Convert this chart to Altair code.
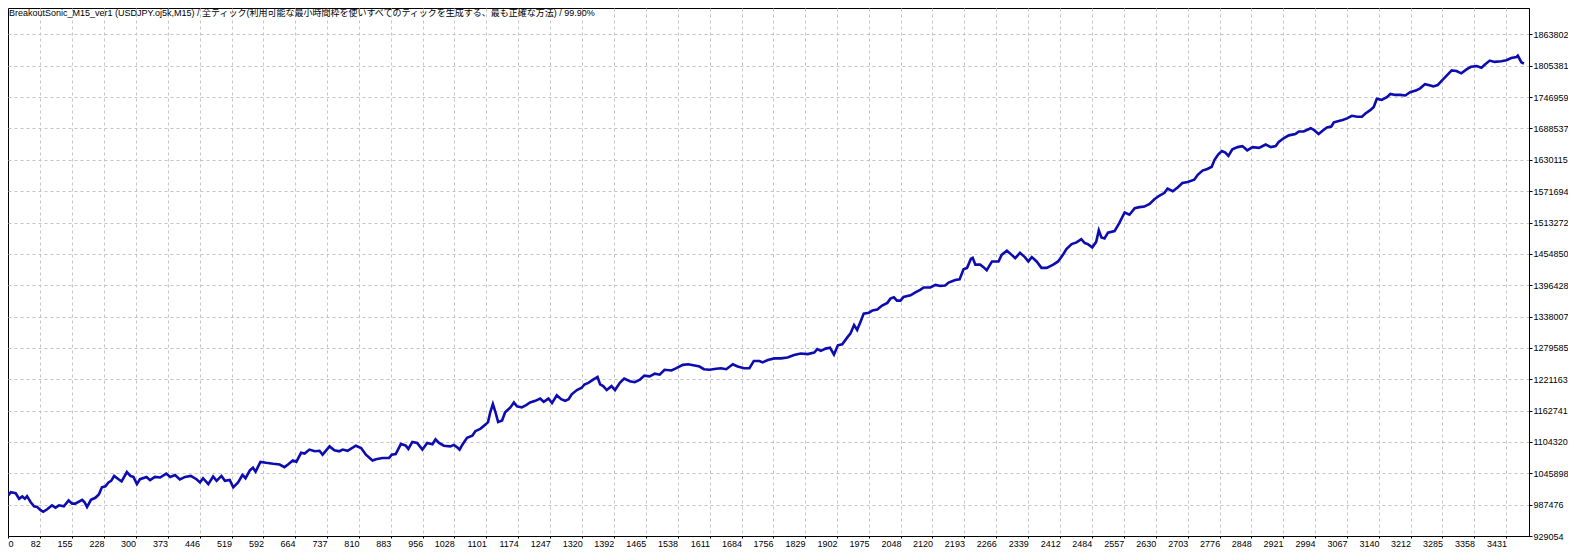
import altair as alt
import pandas as pd

TITLE = "BreakoutSonic_M15_ver1 (USDJPY.oj5k,M15) / 全ティック(利用可能な最小時間枠を使いすべてのティックを生成する、最も正確な方法) / 99.90%"

TRADE = [9,15,26,34,41,47,52,60,68,75,83,89,98,109,117,125,136,147,155,162,178,183,189,198,208,216,223,231,238,244,251,261,268,280,288,295,303,310,325,333,344,356,370,379,390,401,413,426,439,447,454,466,477,485,496,504,515,523,534,544,551,561,568,574,585,598,614,629,640,648,659,667,678,686,697,709,720,727,743,754,765,773,784,803,815,826,841,849,864,879,885,894,906,917,923,932,943,955,966,978,985,993,1004,1019,1027,1035,1040,1046,1057,1069,1076,1088,1099,1105,1110,1116,1122,1128,1137,1144,1156,1164,1171,1182,1192,1201,1213,1224,1232,1243,1251,1262,1272,1281,1289,1296,1308,1319,1325,1334,1345,1355,1361,1368,1376,1387,1395,1406,1416,1429,1440,1452,1462,1474,1486,1497,1508,1524,1535,1550,1562,1577,1588,1598,1611,1626,1637,1649,1664,1675,1690,1702,1712,1725,1732,1744,1759,1774,1789,1804,1819,1835,1850,1857,1865,1876,1886,1895,1904,1914,1926,1933,1941,1948,1956,1963,1975,1983,1994,2005,2017,2024,2032,2039,2047,2054,2070,2081,2092,2100,2115,2127,2138,2149,2157,2172,2182,2191,2199,2208,2212,2218,2229,2236,2244,2256,2271,2278,2290,2301,2309,2320,2331,2339,2347,2358,2369,2381,2396,2407,2418,2426,2438,2449,2460,2468,2475,2485,2494,2500,2506,2513,2521,2536,2547,2559,2570,2582,2593,2604,2616,2627,2638,2650,2657,2669,2680,2691,2703,2718,2726,2737,2748,2758,2764,2773,2781,2789,2796,2805,2817,2828,2839,2851,2866,2881,2893,2904,2911,2923,2934,2949,2957,2968,2984,2991,3002,3014,3021,3031,3037,3048,3057,3067,3078,3090,3101,3109,3120,3128,3135,3146,3158,3166,3177,3188,3200,3211,3224,3234,3245,3253,3264,3274,3283,3294,3306,3317,3328,3340,3350,3363,3374,3382,3393,3404,3419,3431,3442,3454,3457,3465,3471]

BALANCE = [1004454,1010662,1008836,998430,1002629,998430,1003359,992405,984368,983273,977066,974145,978891,986198,981998,986198,984368,995326,989301,989301,996604,992405,983273,996604,1000255,1006280,1019790,1021616,1028918,1031843,1040971,1034943,1030748,1048275,1040971,1039145,1025815,1034943,1039145,1033118,1039145,1038050,1045350,1039145,1042793,1034396,1039145,1040971,1034943,1028918,1036769,1025815,1039878,1031843,1040971,1031843,1033665,1019790,1028918,1042793,1036769,1051374,1056304,1049005,1067263,1065437,1063611,1062328,1057401,1062328,1069631,1067263,1084053,1082775,1090074,1086971,1087888,1080585,1096103,1088796,1086971,1090074,1087888,1097376,1093178,1080585,1069631,1072005,1074558,1074558,1080585,1081861,1100668,1097563,1091352,1104319,1102493,1090074,1102493,1100120,1109248,1102493,1097376,1096103,1098842,1093913,1090074,1098842,1112170,1115821,1124402,1129331,1136634,1141380,1159637,1174973,1159637,1141380,1144484,1159637,1168766,1177894,1170591,1168766,1173147,1177894,1180998,1185197,1179172,1185197,1176799,1191404,1184101,1180998,1184101,1193230,1201080,1205279,1211487,1214408,1220615,1225362,1211487,1208383,1201080,1208383,1201080,1214408,1222441,1217511,1215686,1220615,1227918,1226640,1231569,1229743,1238872,1237594,1241793,1248000,1249096,1246722,1244896,1239967,1238872,1240697,1241793,1239967,1249096,1244896,1241793,1241793,1255303,1255303,1252747,1257129,1260050,1260050,1261875,1266257,1269178,1268083,1271004,1277211,1274107,1278306,1280132,1267352,1284514,1286340,1299667,1306970,1322123,1312995,1328878,1343483,1345309,1349508,1351334,1358637,1363566,1371416,1373972,1367765,1367765,1374520,1377623,1383100,1387847,1392229,1392229,1396976,1395150,1395880,1401357,1406104,1407382,1426187,1428743,1445721,1447547,1434767,1434767,1430568,1424361,1440792,1440792,1453024,1460875,1453024,1446999,1456675,1448825,1440792,1448825,1440792,1428743,1428743,1434767,1440792,1453024,1463978,1473106,1476210,1482235,1474932,1473106,1467082,1477306,1498666,1485339,1483513,1494467,1497388,1512724,1532076,1527877,1540109,1541935,1543030,1547959,1556540,1563112,1568589,1576622,1571693,1578448,1586846,1588672,1593054,1602182,1610032,1613136,1617335,1629568,1640521,1646546,1643442,1637418,1649650,1653849,1655674,1647824,1653849,1652571,1658778,1653849,1655674,1663525,1670828,1675757,1678130,1683060,1683060,1689085,1686164,1678130,1686164,1690362,1692188,1700039,1702595,1704420,1707341,1712270,1710445,1710445,1716470,1722677,1728702,1743855,1742029,1746958,1752983,1751157,1751157,1750062,1756087,1759190,1763390,1771240,1769414,1767041,1769414,1777448,1786576,1796800,1795704,1791323,1798625,1803554,1804832,1801729,1807754,1815056,1812683,1813961,1815787,1819986,1821811,1824185,1812135,1809579]

X_TICK_LABELS = [0, 82, 155, 228, 300, 373, 446, 519, 592, 664, 737, 810, 883, 956, 1028, 1101,
                 1174, 1247, 1320, 1392, 1465, 1538, 1611, 1684, 1756, 1829, 1902, 1975, 2048, 2120,
                 2193, 2266, 2339, 2412, 2484, 2557, 2630, 2703, 2776, 2848, 2921, 2994, 3067, 3140,
                 3212, 3285, 3358, 3431]
Y_TICKS = [929054, 987476, 1045898, 1104320, 1162741, 1221163, 1279585, 1338007, 1396428,
           1454850, 1513272, 1571694, 1630115, 1688537, 1746959, 1805381, 1863802]

X_DOMAIN = [8.5, 3482.6]
Y_DOMAIN = [929054, 1913117]

assert len(TRADE) == len(BALANCE)

FONT = "Liberation Sans, Noto Sans CJK JP, sans-serif"

df = pd.DataFrame({"trade": TRADE, "balance": BALANCE})
x_tick_pos = [X_DOMAIN[0]] + X_TICK_LABELS[1:]

x_enc = alt.X(
    "trade:Q",
    scale=alt.Scale(domain=X_DOMAIN, nice=False, zero=False),
    axis=alt.Axis(
        values=x_tick_pos,
        title=None,
        grid=True,
        gridColor="#c4c4c4",
        gridDash=[3, 3],
        gridWidth=1,
        gridOpacity={"condition": {"test": "datum.value < 10", "value": 0}, "value": 1},
        domainColor="#000000",
        domainWidth=1,
        tickColor="#000000",
        tickSize=2,
        labelFont=FONT,
        labelFontSize=9,
        labelColor="#000000",
        labelPadding=1,
        labelAlign={"condition": {"test": "datum.value < 10", "value": "left"}, "value": "right"},
        labelExpr="datum.value < 10 ? '0' : format(datum.value, 'd')",
        labelFlush=False,
        labelOverlap=False,
    ),
)
y_enc = alt.Y(
    "balance:Q",
    scale=alt.Scale(domain=Y_DOMAIN, nice=False, zero=False),
    axis=alt.Axis(
        orient="right",
        values=Y_TICKS,
        title=None,
        grid=True,
        gridColor="#c4c4c4",
        gridDash=[3, 3],
        gridWidth=1,
        domainColor="#000000",
        domainWidth=1,
        tickColor="#000000",
        tickSize=3,
        labelFont=FONT,
        labelFontSize=9,
        labelColor="#000000",
        labelPadding=1,
        labelAlign="left",
        labelBaseline="middle",
        labelExpr="format(datum.value, 'd')",
        labelFlush=False,
        labelOverlap=False,
    ),
)

line = alt.Chart(df).mark_line(color="#0c0cb0", strokeWidth=2.6, clip=True).encode(x=x_enc, y=y_enc)

title_df = pd.DataFrame({"t": [TITLE]})
title = alt.Chart(title_df).mark_text(
    align="left", baseline="middle", font=FONT, fontSize=9, color="#000000"
).encode(x=alt.value(1), y=alt.value(5), text="t:N")

chart = (
    alt.layer(line, title)
    .properties(
        width=1521,
        height=528,
        autosize=alt.AutoSizeParams(type="none"),
        padding={"left": 0, "top": 0, "right": 39, "bottom": 12},
        background="#ffffff",
    )
    .configure_view(stroke="#000000", strokeWidth=1)
)

chart.save("out.html", embed_options={"renderer": "svg", "actions": False})
